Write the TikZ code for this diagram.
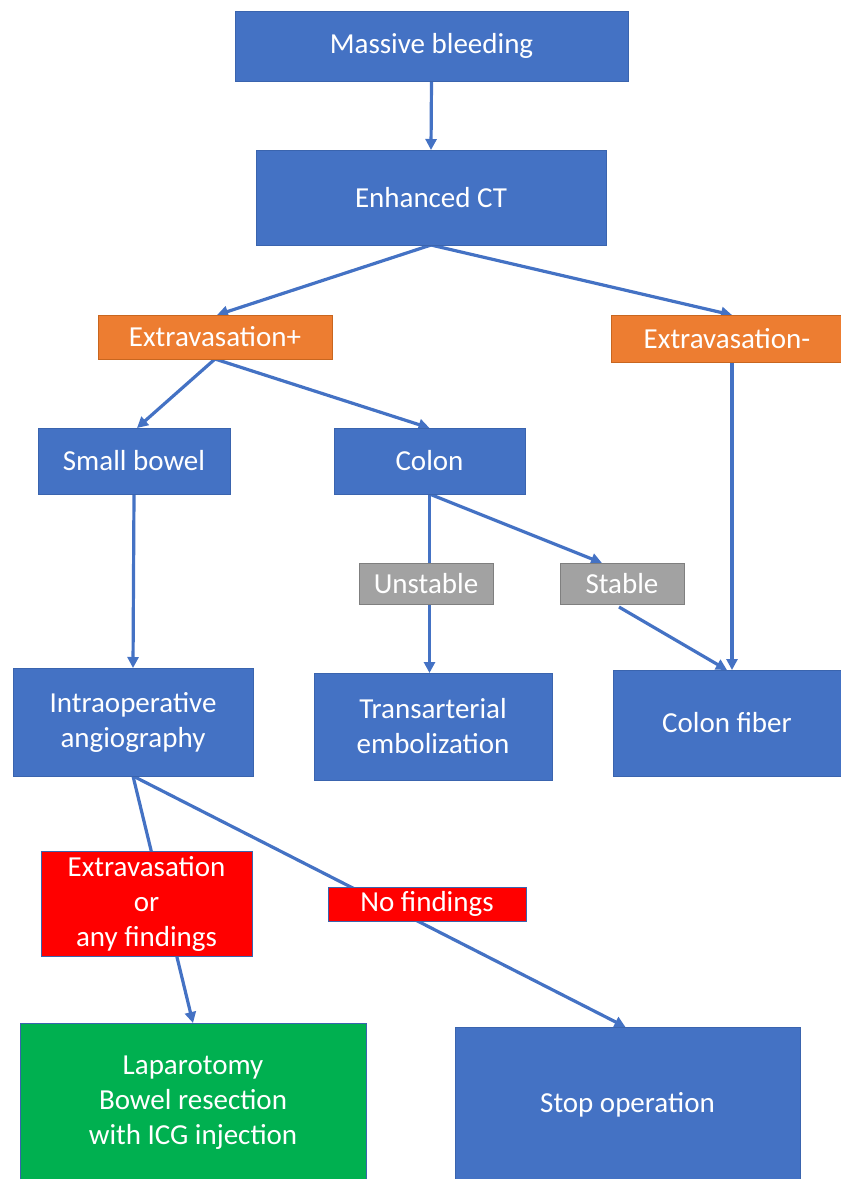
\documentclass[tikz,border=0pt]{standalone}
\usepackage{fontspec}
\setmainfont{Carlito}
\usetikzlibrary{arrows.meta,backgrounds}
\definecolor{boxblue}{HTML}{4472C4}
\definecolor{boxblueedge}{HTML}{3A64AE}
\definecolor{boxorange}{HTML}{ED7D31}
\definecolor{boxorangeedge}{HTML}{C8661F}
\definecolor{boxgray}{HTML}{A2A2A2}
\definecolor{boxgrayedge}{HTML}{7F7F7F}
\definecolor{boxred}{HTML}{FF0000}
\definecolor{boxgreen}{HTML}{00B050}
\definecolor{lineblue}{HTML}{4472C4}
\tikzset{
  box/.style={draw=boxblueedge, line width=1pt, fill=boxblue, text=white, inner sep=0pt, outer sep=0pt, align=center,
    font=\fontsize{29}{35}\selectfont},
  orangebox/.style={box, fill=boxorange, draw=boxorangeedge},
  graybox/.style={box, fill=boxgray, draw=boxgrayedge},
  redbox/.style={box, fill=boxred, draw=boxblueedge},
  greenbox/.style={box, fill=boxgreen, draw=boxblueedge},
  conn/.style={draw=lineblue, line width=3.2pt},
  arr/.style={conn, -{Triangle[length=11pt,width=11pt]}}
}
\begin{document}
\begin{tikzpicture}[x=1pt,y=-1pt]
\useasboundingbox (0,0) rectangle (841,1179);
\node[box, minimum width=393, minimum height=70] (mb) at (431.5,46) {\raisebox{-2pt}{Massive bleeding}};
\node[box, minimum width=350, minimum height=95] (ct) at (431,197.5) {Enhanced CT};
\node[orangebox, minimum width=234, minimum height=44] (ep) at (215,337) {Extravasation+};
\node[orangebox, minimum width=232, minimum height=47] (en) at (727,338.5) {Extravasation-};
\node[box, minimum width=192, minimum height=66] (sb) at (134,461) {Small bowel};
\node[box, minimum width=191, minimum height=66] (co) at (429.5,461) {Colon};
\node[graybox, minimum width=134, minimum height=41] (un) at (426,583.5) {Unstable};
\node[graybox, minimum width=124, minimum height=41] (st) at (622,583.5) {Stable};
\node[box, minimum width=240, minimum height=108] (io) at (133,722) {Intraoperative\\angiography};
\node[box, minimum width=238, minimum height=107] (ta) at (433,726.5) {Transarterial\\embolization};
\node[box, minimum width=228, minimum height=106] (cf) at (727,723) {Colon fiber};
\node[redbox, minimum width=211, minimum height=105] (rx) at (146.5,903.5) {Extravasation\\or\\any findings};
\node[redbox, minimum width=198, minimum height=34] (nf) at (427,904) {No findings};
\node[greenbox, minimum width=346, minimum height=160] (lp) at (193,1103) {Laparotomy\\Bowel resection\\with ICG injection};
\node[box, minimum width=345, minimum height=156] (so) at (627.5,1105) {Stop operation};
\begin{scope}[on background layer]
\draw[arr] (mb.south) -- (ct.north);
\draw[arr] (ct.south) -- ([xshift=2pt]ep.north);
\draw[arr] (ct.south) -- ([xshift=5pt]en.north);
\draw[arr] (ep.south) -- ([xshift=3pt]sb.north);
\draw[arr] (ep.south) -- (co.north);
\draw[arr] (co.south) -- (co.south |- ta.north);
\draw[arr] (co.south) -- ([xshift=-20pt]st.north);
\draw[arr] ([xshift=-3pt,yshift=-3pt]st.south) -- (cf.north);
\draw[arr] ([xshift=5pt]en.south) -- ([xshift=5pt]cf.north);
\draw[arr] (sb.south) -- (io.north);
\draw[arr] (io.south) -- (lp.north);
\draw[arr] (io.south) -- ([xshift=-2pt]so.north);
\end{scope}
\end{tikzpicture}
\end{document}
